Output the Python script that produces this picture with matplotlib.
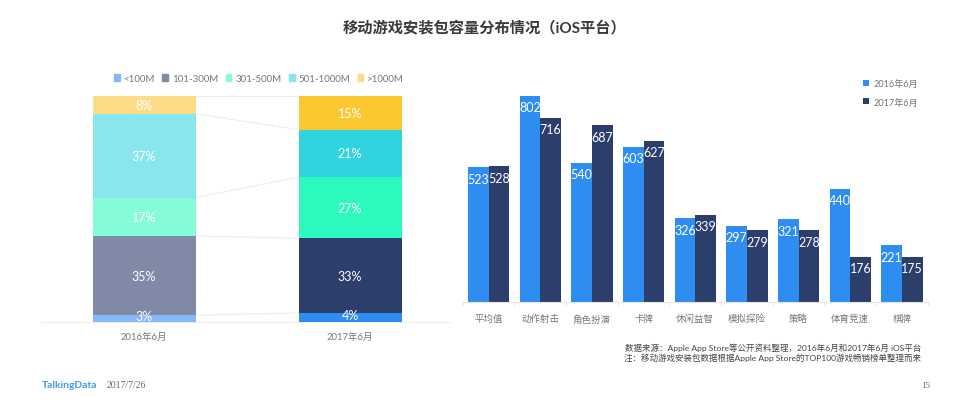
import matplotlib
matplotlib.use('Agg')
import matplotlib.pyplot as plt
import numpy as np

plt.rcParams['font.family'] = ['Lato', 'Noto Sans CJK SC', 'DejaVu Sans']

W, H = 968, 410

# --- data ---
years = ['2016年6月', '2017年6月']
size_labels = ['<100M', '101-300M', '301-500M', '501-1000M', '>1000M']
share_2016 = [3, 35, 17, 37, 8]
share_2017 = [4, 33, 27, 21, 15]
colors_2016 = ['#85B8F8', '#8089A5', '#85FBD8', '#88E6EC', '#FDDC87']
colors_2017 = ['#2E8DF0', '#2C3E6B', '#2CF9BE', '#31D3DE', '#FBC831']

genres = ['平均值', '动作射击', '角色扮演', '卡牌', '休闲益智', '模拟探险', '策略', '体育竞速', '棋牌']
avg_2016 = [523, 802, 540, 603, 326, 297, 321, 440, 221]
avg_2017 = [528, 716, 687, 627, 339, 279, 278, 176, 175]


def px_axes(x0, y0, x1, y1):
    # axes from pixel box, y measured from the top
    return fig.add_axes([x0 / W, 1 - y1 / H, (x1 - x0) / W, (y1 - y0) / H])


fig = plt.figure(figsize=(W / 100, H / 100), dpi=100, facecolor='white')

fig.text(485 / W, 1 - 28.5 / H, '移动游戏安装包容量分布情况（iOS平台）', ha='center', va='center',
         fontsize=11, fontweight='bold', color='#3A3A3A')

# --- left: stacked bars ---
ax1 = px_axes(41, 96.7, 450, 323)
ax1.set_xlim(-0.5, 1.485)
ax1.set_ylim(0, 100)

bottoms = np.zeros(2)
handles = []
for i, lab in enumerate(size_labels):
    vals = np.array([share_2016[i], share_2017[i]])
    bars = ax1.bar([0, 1], vals, width=0.5, bottom=bottoms,
                   color=[colors_2016[i], colors_2017[i]], linewidth=0, zorder=3)
    handles.append(plt.Rectangle((0, 0), 1, 1, color=colors_2016[i]))
    tops = bottoms + vals
    # connector between the two stacks
    ax1.plot([0.25, 0.75], tops, color='#EDEDED', lw=0.8, zorder=2)
    for x, v, b in zip([0, 1], vals, bottoms):
        ax1.text(x, b + v / 2 + (1 if v < 5 else 0), f'{v}%', ha='center', va='center',
                 color='white', fontsize=9, zorder=4)
    bottoms = tops

for s in ['top', 'left', 'right']:
    ax1.spines[s].set_visible(False)
ax1.spines['bottom'].set_color('#EFEFEF')
ax1.spines['bottom'].set_linewidth(0.8)
ax1.set_yticks([])
ax1.set_xticks([0, 1], years)
ax1.tick_params(axis='x', length=0, pad=7, labelsize=6.8, labelcolor='#777777')
ax1.patch.set_alpha(0)

fig.legend(handles, size_labels, loc='center left', bbox_to_anchor=(114 / W, 1 - 79.5 / H), ncol=5,
           frameon=False, fontsize=7, labelcolor='#777777', handlelength=0.6, handleheight=0.6,
           handletextpad=0.4, columnspacing=0.75, borderpad=0, borderaxespad=0)

# --- right: grouped bars ---
ax2 = px_axes(462.7, 96.5, 927.7, 303)
x = np.arange(len(genres))
bw = 0.4
b1 = ax2.bar(x - bw / 2, avg_2016, bw, color='#2E8DF0', label=years[0], linewidth=0)
b2 = ax2.bar(x + bw / 2, avg_2017, bw, color='#2C3E6B', label=years[1], linewidth=0)
ax2.set_xlim(-0.5, len(genres) - 0.5)
ax2.set_ylim(0, 802)
for bars, vals in [(b1, avg_2016), (b2, avg_2017)]:
    for r, v in zip(bars, vals):
        ax2.annotate(str(v), (r.get_x() + r.get_width() / 2, v), xytext=(0, -11.5 * 0.72),
                     textcoords='offset points', ha='center', va='center', color='white', fontsize=9)

for s in ['top', 'left', 'right']:
    ax2.spines[s].set_visible(False)
ax2.spines['bottom'].set_color('#E6E6E6')
ax2.spines['bottom'].set_linewidth(0.8)
ax2.set_yticks([])
ax2.set_xticks(x, genres)
ax2.set_xticks(np.arange(-0.5, len(genres)), minor=True)
ax2.tick_params(axis='x', which='major', length=0, pad=8.5, labelsize=6.8, labelcolor='#777777')
ax2.tick_params(axis='x', which='minor', length=2.5, width=0.7, color='#E0E0E0')
ax2.patch.set_alpha(0)

ax2.legend(loc='center left', bbox_to_anchor=(863 / W, 1 - 94 / H), bbox_transform=fig.transFigure,
           frameon=False, fontsize=6.6, labelcolor='#777777', handlelength=0.65, handleheight=0.65,
           handletextpad=0.45, labelspacing=1.0, borderpad=0, borderaxespad=0)

# --- notes and footer ---
fig.text(921 / W, 1 - 348 / H, '数据来源：Apple App Store等公开资料整理，2016年6月和2017年6月 iOS平台',
         ha='right', va='center', fontsize=6.1, color='#444444')
fig.text(921 / W, 1 - 358 / H, '注：移动游戏安装包数据根据Apple App Store的TOP100游戏畅销榜单整理而来',
         ha='right', va='center', fontsize=6.1, color='#444444')
fig.text(42 / W, 1 - 386 / H, 'TalkingData', ha='left', va='center', fontsize=7.4, fontweight='bold', color='#3D9BF0')
fig.text(107 / W, 1 - 386 / H, '2017/7/26', ha='left', va='center', fontsize=7,
         family='Liberation Serif', color='#666666')
fig.text(921 / W, 1 - 386 / H, '15', ha='left', va='center', fontsize=6.5, family='Liberation Serif', color='#666666')

fig.savefig('out.png', dpi=100)
